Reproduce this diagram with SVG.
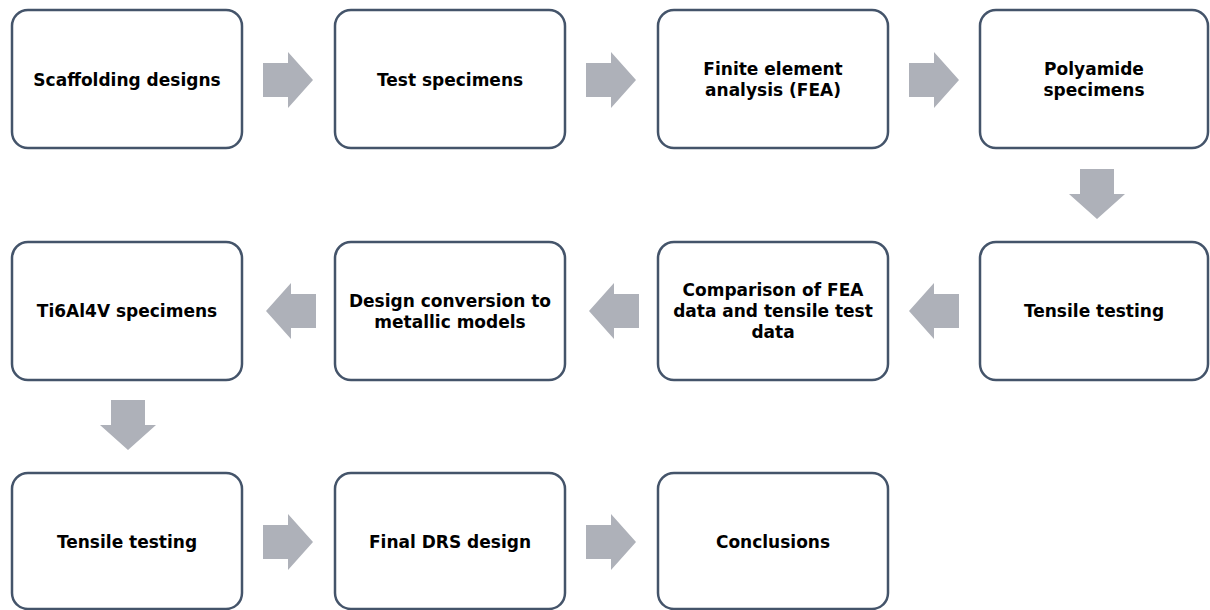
<svg xmlns="http://www.w3.org/2000/svg" width="1210" height="610" viewBox="0 0 1210 610">
<defs>
<style>
.box{fill:#ffffff;stroke:#44546A;stroke-width:2.5}
.lbl{font-family:"DejaVu Sans","Liberation Sans",sans-serif;font-weight:bold;font-size:17px;fill:#000000;text-anchor:middle}
.arr{fill:#AEB1B9}
</style>
<path id="ar" d="M-25,-17 H0 V-28 L25,0 L0,28 V17 H-25 Z"/>
</defs>
<rect width="1210" height="610" fill="#ffffff"/>
<g id="connectors" class="arr">
<use href="#ar" transform="translate(288,80)"/>
<use href="#ar" transform="translate(611,80)"/>
<use href="#ar" transform="translate(934,80)"/>
<use href="#ar" transform="translate(1097,194) rotate(90)"/>
<use href="#ar" transform="translate(934,311) rotate(180)"/>
<use href="#ar" transform="translate(614,311) rotate(180)"/>
<use href="#ar" transform="translate(291,311) rotate(180)"/>
<use href="#ar" transform="translate(128,425) rotate(90)"/>
<use href="#ar" transform="translate(288,542)"/>
<use href="#ar" transform="translate(611,542)"/>
</g>
<g id="n1"><rect class="box" x="12" y="10" width="230" height="138" rx="16"/><text class="lbl" x="127" y="86">Scaffolding designs</text></g>
<g id="n2"><rect class="box" x="335" y="10" width="230" height="138" rx="16"/><text class="lbl" x="450" y="86">Test specimens</text></g>
<g id="n3"><rect class="box" x="658" y="10" width="230" height="138" rx="16"/><text class="lbl" x="773" y="75">Finite element</text><text class="lbl" x="773" y="96">analysis (FEA)</text></g>
<g id="n4"><rect class="box" x="980" y="10" width="228" height="138" rx="16"/><text class="lbl" x="1094" y="75">Polyamide</text><text class="lbl" x="1094" y="96">specimens</text></g>
<g id="n5"><rect class="box" x="980" y="242" width="228" height="138" rx="16"/><text class="lbl" x="1094" y="317">Tensile testing</text></g>
<g id="n6"><rect class="box" x="658" y="242" width="230" height="138" rx="16"/><text class="lbl" x="773" y="296">Comparison of FEA</text><text class="lbl" x="773" y="317">data and tensile test</text><text class="lbl" x="773" y="338">data</text></g>
<g id="n7"><rect class="box" x="335" y="242" width="230" height="138" rx="16"/><text class="lbl" x="450" y="307">Design conversion to</text><text class="lbl" x="450" y="328">metallic models</text></g>
<g id="n8"><rect class="box" x="12" y="242" width="230" height="138" rx="16"/><text class="lbl" x="127" y="317">Ti6Al4V specimens</text></g>
<g id="n9"><rect class="box" x="12" y="473" width="230" height="136" rx="16"/><text class="lbl" x="127" y="548">Tensile testing</text></g>
<g id="n10"><rect class="box" x="335" y="473" width="230" height="136" rx="16"/><text class="lbl" x="450" y="548">Final DRS design</text></g>
<g id="n11"><rect class="box" x="658" y="473" width="230" height="136" rx="16"/><text class="lbl" x="773" y="548">Conclusions</text></g>
</svg>
